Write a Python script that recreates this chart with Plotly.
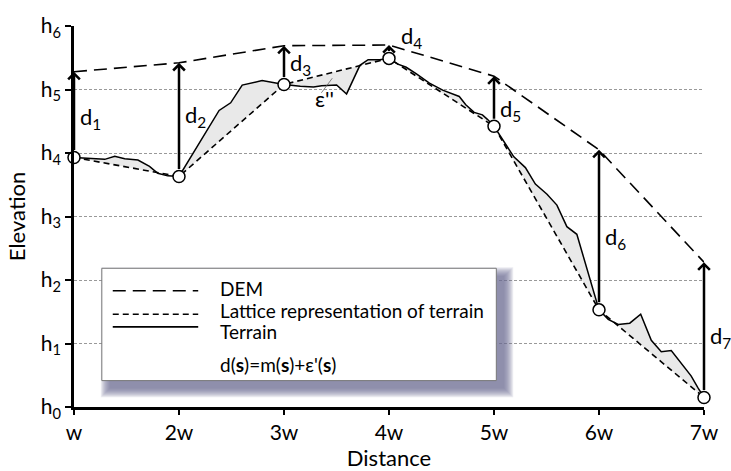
import plotly.graph_objects as go

# ---------------- data ----------------
distance_ticks = ["w", "2w", "3w", "4w", "5w", "6w", "7w"]
elev_ticks = ["h<sub>%d</sub>" % i for i in range(7)]

lattice_x = [1, 2, 3, 4, 5, 6, 7]
lattice_y = [3.93, 3.63, 5.08, 5.49, 4.42, 1.53, 0.15]
dem_y = [5.28, 5.42, 5.69, 5.70, 5.21, 4.05, 2.28]

terrain_x = [1.000, 1.151, 1.293, 1.388, 1.483, 1.609, 1.719, 1.798, 1.892, 2.000,
             2.382, 2.492, 2.602, 2.791, 2.918, 3.000,
             3.155, 3.281, 3.359, 3.501, 3.596, 3.723, 3.801, 3.912, 4.000,
             4.085, 4.164, 4.258, 4.385, 4.511, 4.669, 4.731, 4.811, 4.890, 4.937, 5.000,
             5.189, 5.299, 5.394, 5.505, 5.599, 5.694, 5.789, 5.836, 6.000,
             6.088, 6.183, 6.293, 6.397, 6.498, 6.593, 6.688, 6.766, 6.877, 6.940, 7.000]
terrain_y = [3.93, 3.92, 3.90, 3.95, 3.91, 3.89, 3.79, 3.68, 3.64, 3.63,
             4.67, 4.79, 5.07, 5.14, 5.10, 5.08,
             5.05, 5.04, 5.06, 5.07, 4.93, 5.38, 5.47, 5.47, 5.49,
             5.40, 5.35, 5.25, 5.10, 4.99, 4.89, 4.76, 4.64, 4.60, 4.53, 4.42,
             3.94, 3.77, 3.51, 3.35, 3.18, 2.84, 2.72, 2.46, 1.53,
             1.38, 1.30, 1.32, 1.46, 1.05, 0.87, 0.89, 0.72, 0.49, 0.31, 0.15]

d_labels = ["d<sub>%d</sub>" % i for i in range(1, 8)]
legend_labels = ["DEM", "Lattice representation of terrain", "Terrain",
                 "d(<b>s</b>)=m(<b>s</b>)+ε'(<b>s</b>)"]

# ---------------- layout constants ----------------
W, H = 731, 471
ML, MR, MT, MB = 74, 23, 20, 61
PW, PH = W - ML - MR, H - MT - MB
FONT = "Lato, 'Open Sans', sans-serif"
DEM_DASH = "13px,7px"
LAT_DASH = "6px,4px"
XMIN, XMAX = 1, 7


def px(xpix):
    return (xpix - ML) / PW


def py(ypix):
    return (H - MB - ypix) / PH


def xdata_to_paper(x):
    return (x - XMIN) / (XMAX - XMIN)


fig = go.Figure()

# shaded difference between terrain and lattice
fig.add_trace(go.Scatter(
    x=terrain_x + lattice_x[::-1], y=terrain_y + lattice_y[::-1],
    fill="toself", fillcolor="#e9e9e9", mode="none", hoverinfo="skip"))

fig.add_trace(go.Scatter(x=lattice_x, y=lattice_y, mode="lines",
                         line=dict(color="black", width=1.6, dash=LAT_DASH)))
fig.add_trace(go.Scatter(x=terrain_x, y=terrain_y, mode="lines",
                         line=dict(color="black", width=1.5)))
fig.add_trace(go.Scatter(x=lattice_x, y=dem_y, mode="lines",
                         line=dict(color="black", width=1.6, dash=DEM_DASH),
                         cliponaxis=False))

# epsilon'' leader line
fig.add_trace(go.Scatter(x=[3.356, 3.46], y=[4.948, 5.178], mode="lines",
                         line=dict(color="#666", width=0.8)))

fig.add_trace(go.Scatter(x=lattice_x, y=lattice_y, mode="markers",
                         marker=dict(size=12, color="white",
                                     line=dict(color="black", width=1.5)),
                         cliponaxis=False))

# arrows d_i
label_y = [4.55, 4.58, 5.40, 5.82, 4.67, 2.66, 1.11]
label_dx = [0.04, 0.04, 0.04, 0.10, 0.04, 0.04, 0.04]
for xi, ly, dy, lab, lyy, ldx in zip(lattice_x, lattice_y, dem_y, d_labels,
                                     label_y, label_dx):
    fig.add_annotation(x=xi, y=dy, ax=xi, ay=ly, xref="x", yref="y",
                       axref="x", ayref="y", text="", showarrow=True,
                       arrowhead=4, arrowsize=0.9, arrowwidth=2.5,
                       arrowcolor="black", startstandoff=6)
    fig.add_annotation(x=xdata_to_paper(xi + ldx), y=lyy, xref="paper", yref="y",
                       text=lab, showarrow=False, xanchor="left", yanchor="middle",
                       font=dict(family=FONT, size=22, color="black"))

fig.add_annotation(x=3.39, y=4.86, xref="x", yref="y", text="ε''",
                   showarrow=False, font=dict(family=FONT, size=22, color="black"))

# legend box with soft shadow
bx0, by0, bx1, by1 = 102, 268, 499, 383
for i in range(10):
    e = 9 - i
    fig.add_shape(type="rect", xref="paper", yref="paper",
                  x0=px(bx0 + 8 - e), x1=px(bx1 + 8 + e),
                  y0=py(by1 + 8 + e), y1=py(by0 + 8 - e),
                  fillcolor="rgba(110,110,145,0.13)", line=dict(width=0),
                  layer="above")
fig.add_shape(type="rect", xref="paper", yref="paper",
              x0=px(bx0), x1=px(bx1), y0=py(by1), y1=py(by0),
              fillcolor="white", line=dict(color="#777", width=1), layer="above")

legend_dash = [DEM_DASH, LAT_DASH, "solid"]
legend_line_y = [291, 315, 328]
legend_text_y = [289, 311, 333, 366]
for dsh, ly in zip(legend_dash, legend_line_y):
    fig.add_shape(type="line", xref="paper", yref="paper",
                  x0=px(113), x1=px(199), y0=py(ly), y1=py(ly),
                  line=dict(color="black", width=1.6, dash=dsh), layer="above")
for lab, ty in zip(legend_labels, legend_text_y):
    fig.add_annotation(x=px(219), y=py(ty), xref="paper", yref="paper",
                       text=lab, showarrow=False, xanchor="left", yanchor="middle",
                       font=dict(family=FONT, size=19, color="black"))

fig.update_layout(
    width=W, height=H, margin=dict(l=ML, r=MR, t=MT, b=MB),
    paper_bgcolor="white", plot_bgcolor="white", showlegend=False,
    font=dict(family=FONT, color="black"),
    xaxis=dict(range=[XMIN, XMAX], tickvals=lattice_x, ticktext=distance_ticks,
               showline=True, linecolor="black", linewidth=2.5,
               ticks="outside", ticklen=5, tickwidth=2, tickcolor="black",
               showgrid=False, zeroline=False,
               tickfont=dict(family=FONT, size=21),
               title=dict(text="Distance", font=dict(family=FONT, size=22),
                          standoff=0)),
    yaxis=dict(range=[0, 6], tickvals=list(range(7)), ticktext=elev_ticks,
               showline=True, linecolor="black", linewidth=2.5,
               ticks="outside", ticklen=6, tickwidth=2, tickcolor="black",
               showgrid=True, gridcolor="#999", gridwidth=1, griddash="3px,2px",
               zeroline=False,
               tickfont=dict(family=FONT, size=21),
               title=dict(text="Elevation", font=dict(family=FONT, size=22),
                          standoff=10)),
)

fig.write_html("out.html")
